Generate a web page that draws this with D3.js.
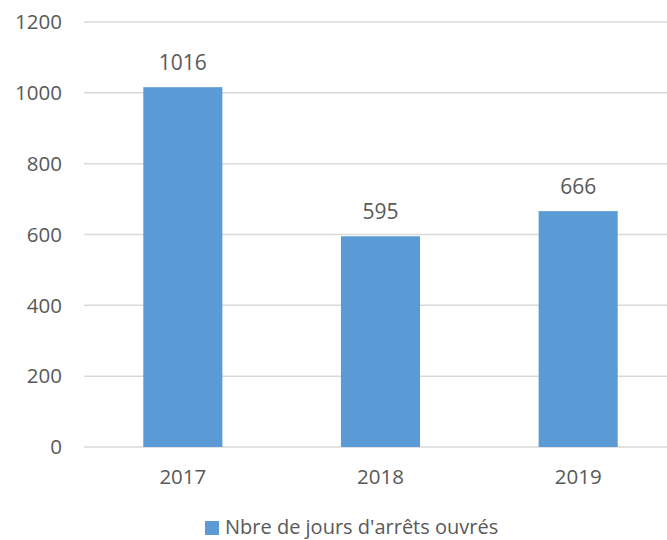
<!DOCTYPE html>
<html>
<head>
<meta charset="utf-8">
<script src="https://cdn.jsdelivr.net/npm/d3@7"></script>
<style>
  body { margin: 0; background: #fff; }
  text { font-family: "Open Sans", sans-serif; fill: #595959; }
</style>
</head>
<body>
<div id="chart"></div>
<script>
const width = 667;
const height = 540;

const years = ["2017", "2018", "2019"];
const values = [1016, 595, 666];
const yTicks = [0, 200, 400, 600, 800, 1000, 1200];
const seriesName = "Nbre de jours d'arrêts ouvrés";

const margin = { top: 22, right: -10, bottom: 93, left: 84 };

const svg = d3.select("#chart")
  .append("svg")
  .attr("width", width)
  .attr("height", height);

const x = d3.scaleBand()
  .domain(years)
  .range([margin.left, width - margin.right])
  .paddingInner(0.6)
  .paddingOuter(0.3);

const y = d3.scaleLinear()
  .domain([0, 1200])
  .range([height - margin.bottom, margin.top]);

// gridlines
svg.append("g")
  .selectAll("line")
  .data(yTicks)
  .join("line")
  .attr("x1", margin.left)
  .attr("x2", width)
  .attr("y1", d => y(d))
  .attr("y2", d => y(d))
  .attr("stroke", "#d9d9d9")
  .attr("stroke-width", 1.5);

// y labels
svg.append("g")
  .selectAll("text")
  .data(yTicks)
  .join("text")
  .attr("x", 62)
  .attr("y", d => y(d))
  .attr("dy", "0.35em")
  .attr("text-anchor", "end")
  .style("font-size", "20.5px")
  .text(d => d);

// bars
svg.append("g")
  .selectAll("rect")
  .data(values)
  .join("rect")
  .attr("x", (d, i) => x(years[i]))
  .attr("width", x.bandwidth())
  .attr("y", d => y(d))
  .attr("height", d => y(0) - y(d))
  .attr("fill", "#5b9bd5");

// value labels
svg.append("g")
  .selectAll("text")
  .data(values)
  .join("text")
  .attr("x", (d, i) => x(years[i]) + x.bandwidth() / 2)
  .attr("y", d => y(d) - 17)
  .attr("text-anchor", "middle")
  .style("font-size", "21px")
  .text(d => d);

// x labels
svg.append("g")
  .selectAll("text")
  .data(years)
  .join("text")
  .attr("x", d => x(d) + x.bandwidth() / 2)
  .attr("y", 484)
  .attr("text-anchor", "middle")
  .style("font-size", "20.5px")
  .text(d => d);

// legend
const legend = svg.append("g").attr("transform", "translate(205,521)");
legend.append("rect")
  .attr("width", 14)
  .attr("height", 14)
  .attr("fill", "#5b9bd5");
legend.append("text")
  .attr("x", 20)
  .attr("y", 13)
  .style("font-size", "20px")
  .text(seriesName);
</script>
</body>
</html>
